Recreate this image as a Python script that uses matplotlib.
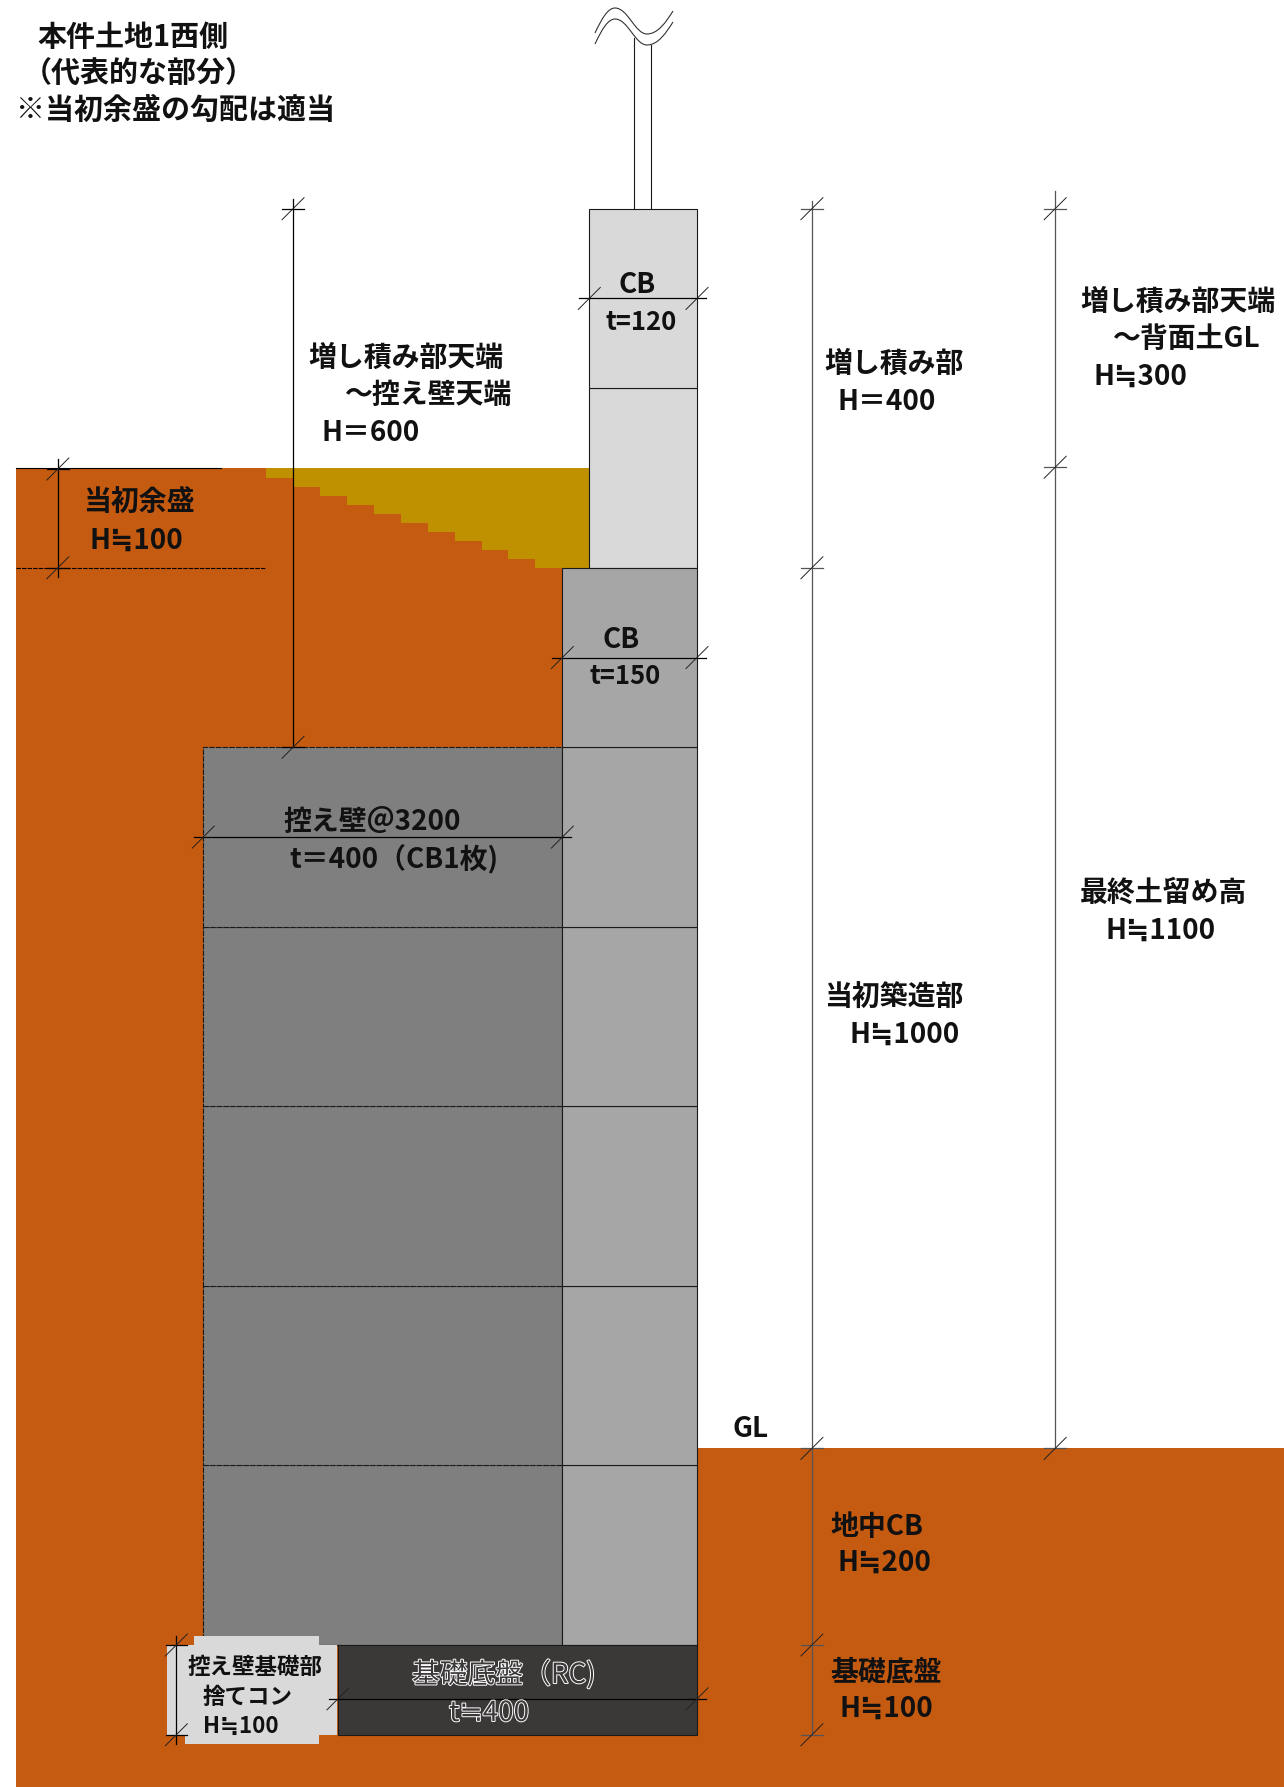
import matplotlib
matplotlib.use('Agg')
import matplotlib.pyplot as plt
import matplotlib.patheffects as pe
from matplotlib.patches import PathPatch, Rectangle
from matplotlib.path import Path
from matplotlib.transforms import Affine2D

plt.rcParams['font.family'] = ['Noto Sans CJK JP', 'DejaVu Sans']

# All section values in mm. x = 0 is the front face of the wall, y = 0 the top of the footing.
upper_rows = [1200, 1400, 1600]
lower_rows = [0, 200, 400, 600, 800, 1000, 1200]
buttress_rows = [0, 200, 400, 600, 800, 1000]
upper_t = 120
lower_t = 150
buttress_t = 400
footing_t = 400
footing_h = 100
gl_level = 219
fill_top = 1310
step_edges = [-480, -450, -420, -390, -360, -330, -300, -270, -240, -210, -180, -120]
step_levels = [1300, 1290, 1280, 1270, 1260, 1250, 1240, 1230, 1220, 1210, 1200]
pipe_x = [-70, -51]
pipe_top = [1790, 1782]
soil_left = -759

SOIL = '#C55A11'
FILL = '#BF9000'
PALE = '#D9D9D9'
MID = '#A6A6A6'
DARK = '#7F7F7F'
SLAB = '#3B3838'
LINE = '#1a1a1a'

W, H = 1284, 1787
MM = 0.8977  # pixels per mm
X0, Y0 = 697, 1645

fig = plt.figure(figsize=(W / 100, H / 100), dpi=100)
ax = fig.add_axes([0, 0, 1, 1])
ax.set_xlim(-X0 / MM, (W - X0) / MM)
ax.set_ylim(-(H - Y0) / MM, Y0 / MM)
ax.axis('off')

# picture pixels, y down, for the texts and the hand drawn bits
px = Affine2D().scale(1, -1).translate(0, H)


def box(x0, x1, y0, y1, color, z=2, edge=LINE, ls='-'):
    ax.add_patch(Rectangle((x0, y0), x1 - x0, y1 - y0, facecolor=color, edgecolor=edge,
                           linewidth=0.8, linestyle=ls, zorder=z))


# ground
xmax = ax.get_xlim()[1]
ymin = ax.get_ylim()[0]
box(soil_left, -lower_t, ymin, fill_top + 1, SOIL, 1, 'none')
box(soil_left, xmax, ymin, -footing_h, SOIL, 1, 'none')
box(0, xmax, ymin, gl_level, SOIL, 1, 'none')
ax.fill_between(step_edges, fill_top + 1, step_levels + [step_levels[-1]], step='post',
                color=FILL, linewidth=0, zorder=1.5)
ax.plot([soil_left, -530], [fill_top + 1] * 2, color='k', lw=0.8, zorder=3)
ax.plot([soil_left, -480], [1200, 1200], color='k', lw=0.8, ls=(0, (4, 1)), zorder=3)

# buttress first so the solid wall edge stays on top of its dashes
for a, b in zip(buttress_rows, buttress_rows[1:]):
    box(-lower_t - buttress_t, -lower_t, a, b, DARK, 1.8, LINE, (0, (5, 1)))
for a, b in zip(upper_rows, upper_rows[1:]):
    box(-upper_t, 0, a, b, PALE)
for a, b in zip(lower_rows, lower_rows[1:]):
    box(-lower_t, 0, a, b, MID)

# label patch behind the footing note, then the footing
for x0, x1, y0, y1 in [(167, 337, 1645, 1735), (194, 319, 1636, 1645), (185, 319, 1735, 1744)]:
    ax.add_patch(Rectangle((x0, y0), x1 - x0, y1 - y0, facecolor=PALE, edgecolor='none',
                           transform=px, zorder=3))
box(-footing_t, 0, -footing_h, 0, SLAB, 3)

# pipe above the wall with the break line
ax.plot([pipe_x[0]] * 2, [1600, pipe_top[0]], color=LINE, lw=0.8, zorder=2)
ax.plot([pipe_x[1]] * 2, [1600, pipe_top[1]], color=LINE, lw=0.8, zorder=2)
for dy in [0, 11]:
    verts = [(595, 33 + dy), (602, 18 + dy), (608, 8 + dy), (615, 8 + dy),
             (628, 8 + dy), (635, 34 + dy), (647, 34 + dy),
             (658, 34 + dy), (666, 22 + dy), (673, 11 + dy)]
    codes = [Path.MOVETO] + [Path.CURVE4] * 9
    ax.add_patch(PathPatch(Path(verts, codes), facecolor='none', edgecolor='#333333', lw=0.8,
                           transform=px, zorder=4))


def tick(x, y):
    # slash mark of a dimension line, given in mm
    sx, sy = ax.transData.transform((x, y))
    ax.plot([sx - 11, sx + 11], [sy - 11, sy + 11], color='#222222', lw=0.7,
            transform=None, zorder=6)


def vdim(x, y0, y1, ticks, color='#333333'):
    ax.plot([x, x], [y0, y1], color=color, lw=0.9, zorder=5)
    for y in ticks:
        tick(x, y)
        ax.plot([x - 12, x + 12], [y, y], color=color, lw=0.9, zorder=5)


def hdim(y, x0, x1, ticks):
    ax.plot([x0, x1], [y, y], color='k', lw=0.9, zorder=5)
    for x in ticks:
        tick(x, y)


vdim(-450, 1611, 1000, [1600, 1000], 'k')
vdim(128, 1608, -100, [1600, 1200, gl_level, 0, -100], '#555555')
vdim(399, 1620, gl_level, [1600, 1312, gl_level], '#555555')
vdim(-712, 1321, 1190, [1310, 1200], 'k')
vdim(-580, 10, -110, [0, -100], 'k')
hdim(1500, -132, 10, [-upper_t, 0])
hdim(1100, -162, 10, [-lower_t, 0])
hdim(900, -560, -140, [-lower_t - buttress_t, -lower_t])
hdim(-60, -410, 10, [-footing_t, 0])

# texts: (x, y, string) in picture pixels
title_labels = [(37, 37, '本件土地1西側'), (23, 74, '（代表的な部分）'), (16, 110, '※当初余盛の勾配は適当')]
big_labels = [
    (308, 358, '増し積み部天端'), (345, 395, '～控え壁天端'), (322, 433, 'H＝600'),
    (83, 503, '当初余盛'), (89, 541, 'H≒100'),
    (619, 285, 'CB'), (603, 640, 'CB'),
    (283, 822, '控え壁＠3200'), (289, 859, 't＝400（CB1枚)'),
    (824, 364, '増し積み部'), (838, 402, 'H＝400'),
    (824, 998, '当初築造部'), (849, 1035, 'H≒1000'),
    (732, 1429, 'GL'), (830, 1527, '地中CB'), (837, 1563, 'H≒200'),
    (830, 1672, '基礎底盤'), (839, 1709, 'H≒100'),
    (1080, 302, '増し積み部天端'), (1113, 339, '～背面土GL'), (1093, 377, 'H≒300'),
    (1080, 893, '最終土留め高'), (1105, 931, 'H≒1100'),
]
thin_labels = [(605, 322, 't=120'), (589, 677, 't=150')]
small_labels = [(187, 1667, '控え壁基礎部'), (203, 1697, '捨てコン'), (203, 1726, 'H≒100')]
outlined_labels = [(412, 1675, '基礎底盤（RC)'), (449, 1713, 't≒400')]

for x, y, s in title_labels:
    ax.text(x, y, s, transform=px, fontsize=20.9, fontweight='bold', color='#111111',
            va='center', ha='left', zorder=8)
for x, y, s in big_labels:
    ax.text(x, y, s, transform=px, fontsize=20.1, fontweight='bold', color='#111111',
            va='center', ha='left', zorder=8)
for x, y, s in thin_labels:
    ax.text(x, y, s, transform=px, fontsize=18.5, fontweight='bold', color='#111111',
            va='center', ha='left', zorder=8)
for x, y, s in small_labels:
    ax.text(x, y, s, transform=px, fontsize=16.2, fontweight='bold', color='#111111',
            va='center', ha='left', zorder=8)
for x, y, s in outlined_labels:
    ax.text(x, y, s, transform=px, fontsize=20, color=SLAB, va='center', ha='left', zorder=8,
            path_effects=[pe.Stroke(linewidth=1.4, foreground='white'), pe.Normal()])

fig.savefig('out.png', dpi=100, facecolor='white')
